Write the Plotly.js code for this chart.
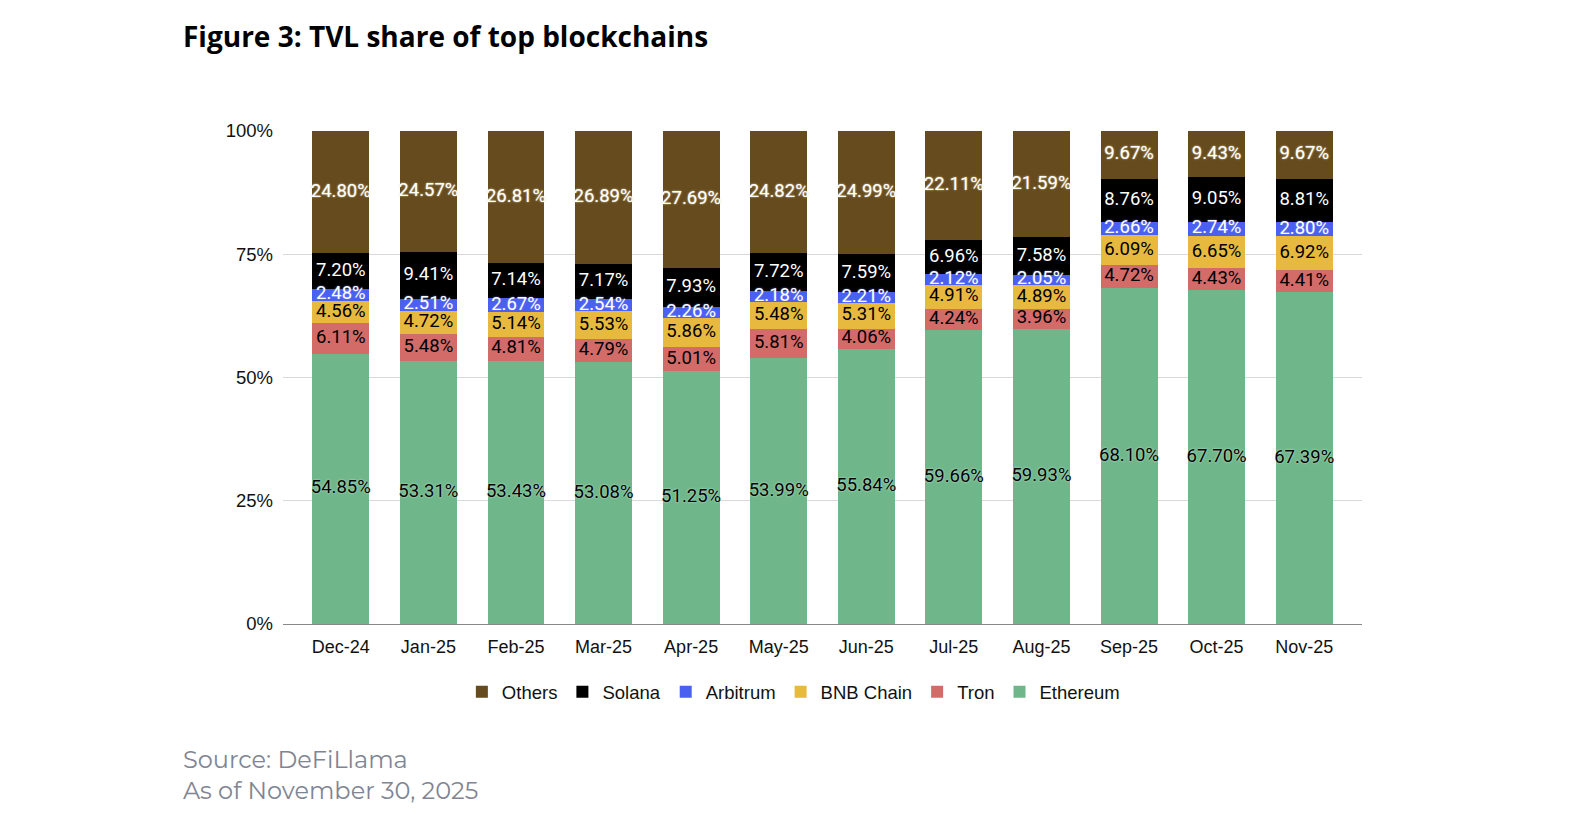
<!DOCTYPE html>
<html>
<head>
<meta charset="utf-8">
<script src="https://cdn.plot.ly/plotly-3.0.1.min.js"></script>
<style>html,body{margin:0;padding:0;background:#fff}#chart{width:1570px;height:818px}</style>
</head>
<body>
<div id="chart"></div>
<script>
const months = ["Dec-24","Jan-25","Feb-25","Mar-25","Apr-25","May-25","Jun-25","Jul-25","Aug-25","Sep-25","Oct-25","Nov-25"];
const ethereum = [54.85,53.31,53.43,53.08,51.25,53.99,55.84,59.66,59.93,68.10,67.70,67.39];
const tron     = [6.11,5.48,4.81,4.79,5.01,5.81,4.06,4.24,3.96,4.72,4.43,4.41];
const bnb      = [4.56,4.72,5.14,5.53,5.86,5.48,5.31,4.91,4.89,6.09,6.65,6.92];
const arbitrum = [2.48,2.51,2.67,2.54,2.26,2.18,2.21,2.12,2.05,2.66,2.74,2.80];
const solana   = [7.20,9.41,7.14,7.17,7.93,7.72,7.59,6.96,7.58,8.76,9.05,8.81];
const others   = [24.80,24.57,26.81,26.89,27.69,24.82,24.99,22.11,21.59,9.67,9.43,9.67];
const yTicks = [0,25,50,75,100];
const yTickLabels = ["0%","25%","50%","75%","100%"];

const series = [
  {name:"Ethereum", y:ethereum, color:"#6fb78b", txt:"#000000", shadow:"0 0 2px #d8eee0"},
  {name:"Tron", y:tron, color:"#d36b69", txt:"#000000", shadow:"none"},
  {name:"BNB Chain", y:bnb, color:"#e8b93f", txt:"#000000", shadow:"none"},
  {name:"Arbitrum", y:arbitrum, color:"#4a60f0", txt:"#ffffff", shadow:"0 0 2px #6f82ff"},
  {name:"Solana", y:solana, color:"#000000", txt:"#ffffff", shadow:"none"},
  {name:"Others", y:others, color:"#654b1d", txt:"#ffffff", shadow:"0 0 2px #e6d8b0"}
];

// totals per month (for normalised stacking)
const totals = months.map((m, i) => series.reduce((a, s) => a + s.y[i], 0));

const barTraces = series.map(s => ({
  type:"bar", name:s.name, x:months, y:s.y,
  marker:{color:s.color, line:{width:0}},
  textposition:"none",
  hoverinfo:"name+y"
}));

// label traces at segment midpoints, derived from the data
const cum = months.map(() => 0);
const labelTraces = series.map(s => {
  const mids = s.y.map((v, i) => {
    const m = (cum[i] + v / 2) / totals[i] * 100;
    cum[i] += v;
    return m;
  });
  return {
    type:"scatter", mode:"text", x:months, y:mids, showlegend:false,
    text:s.y.map(v => v.toFixed(2) + "%"), textposition:"middle center",
    textfont:{family:"Roboto, sans-serif", size:18.5, color:s.txt, shadow:s.shadow},
    hoverinfo:"skip", cliponaxis:false
  };
});

const layout = {
  width:1570, height:818,
  paper_bgcolor:"#ffffff", plot_bgcolor:"#ffffff",
  barmode:"stack", barnorm:"percent", bargap:0.35,
  margin:{l:283, r:208, t:131, b:194},
  title:{text:"<b>Figure 3: TVL share of top blockchains</b>", x:183/1570, xanchor:"left", xref:"container",
         y:1-37/818, yanchor:"middle", yref:"container",
         font:{family:"Open Sans, sans-serif", size:28, color:"#000000"}},
  xaxis:{type:"category", range:[-0.66, 11.66],
         tickfont:{family:"Liberation Sans, Arial, sans-serif", size:18, color:"#111111"},
         showline:true, linecolor:"#888888", linewidth:1, ticks:"", showgrid:false, ticklabelstandoff:6},
  yaxis:{range:[0,100], tickvals:yTicks, ticktext:yTickLabels,
         tickfont:{family:"Liberation Sans, Arial, sans-serif", size:18.5, color:"#111111"},
         showgrid:true, gridcolor:"#d9d9d9", gridwidth:1, zeroline:false, ticks:"", ticklabelstandoff:9},
  showlegend:true,
  legend:{orientation:"h", traceorder:"reversed", x:0.473, xanchor:"center", y:-0.1, yanchor:"top",
          font:{family:"Liberation Sans, Arial, sans-serif", size:18.5, color:"#111111"},
          itemwidth:30},
  annotations:[
    {text:"Source: DeFiLlama<br>As of November 30, 2025", xref:"paper", yref:"paper",
     x:(181-283)/1079, y:(624-743)/493, xanchor:"left", yanchor:"top", align:"left", showarrow:false,
     font:{family:"Montserrat, Lato, sans-serif", size:24, color:"#7f8592"}}
  ]
};

Plotly.newPlot("chart", barTraces.concat(labelTraces), layout, {displayModeBar:false, staticPlot:true});
</script>
</body>
</html>
